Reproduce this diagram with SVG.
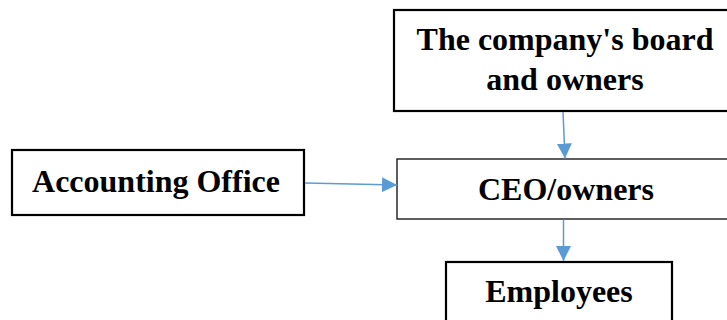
<svg xmlns="http://www.w3.org/2000/svg" width="727" height="320" viewBox="0 0 727 320">
<style>
  .box { fill: #ffffff; stroke: #000000; stroke-width: 2.2; }
  .thin { stroke: #1a1a1a; stroke-width: 1.4; }
  .lbl { font-family: "Liberation Serif", "Times New Roman", serif; font-weight: bold; font-size: 32px; fill: #000000; text-anchor: middle; }
  .conn { stroke: #5B9BD5; stroke-width: 1.5; fill: none; marker-end: url(#arrow); }
</style>
<defs>
  <marker id="arrow" markerUnits="userSpaceOnUse" markerWidth="15" markerHeight="15" refX="15" refY="7.5" orient="auto">
    <path d="M0,0 L15,7.5 L0,15 Z" fill="#5B9BD5"/>
  </marker>
</defs>
<rect width="727" height="320" fill="#ffffff"/>
<g id="board">
  <rect class="box" x="394" y="10" width="345" height="101"/>
  <text class="lbl" x="565" y="50">The company's board</text>
  <text class="lbl" x="565" y="90">and owners</text>
</g>
<g id="accounting">
  <rect class="box" x="12" y="150" width="292" height="65"/>
  <text class="lbl" x="156" y="192">Accounting Office</text>
</g>
<g id="ceo">
  <rect class="box thin" x="397" y="159" width="342" height="60"/>
  <text class="lbl" x="566" y="200">CEO/owners</text>
</g>
<g id="employees">
  <rect class="box" x="446" y="262" width="226" height="70"/>
  <text class="lbl" x="559" y="302">Employees</text>
</g>
<g id="connectors">
  <line class="conn" x1="563" y1="112" x2="565" y2="158.5"/>
  <line class="conn" x1="305" y1="183" x2="397" y2="185"/>
  <line class="conn" x1="563.5" y1="219.5" x2="563.5" y2="261"/>
</g>
</svg>
